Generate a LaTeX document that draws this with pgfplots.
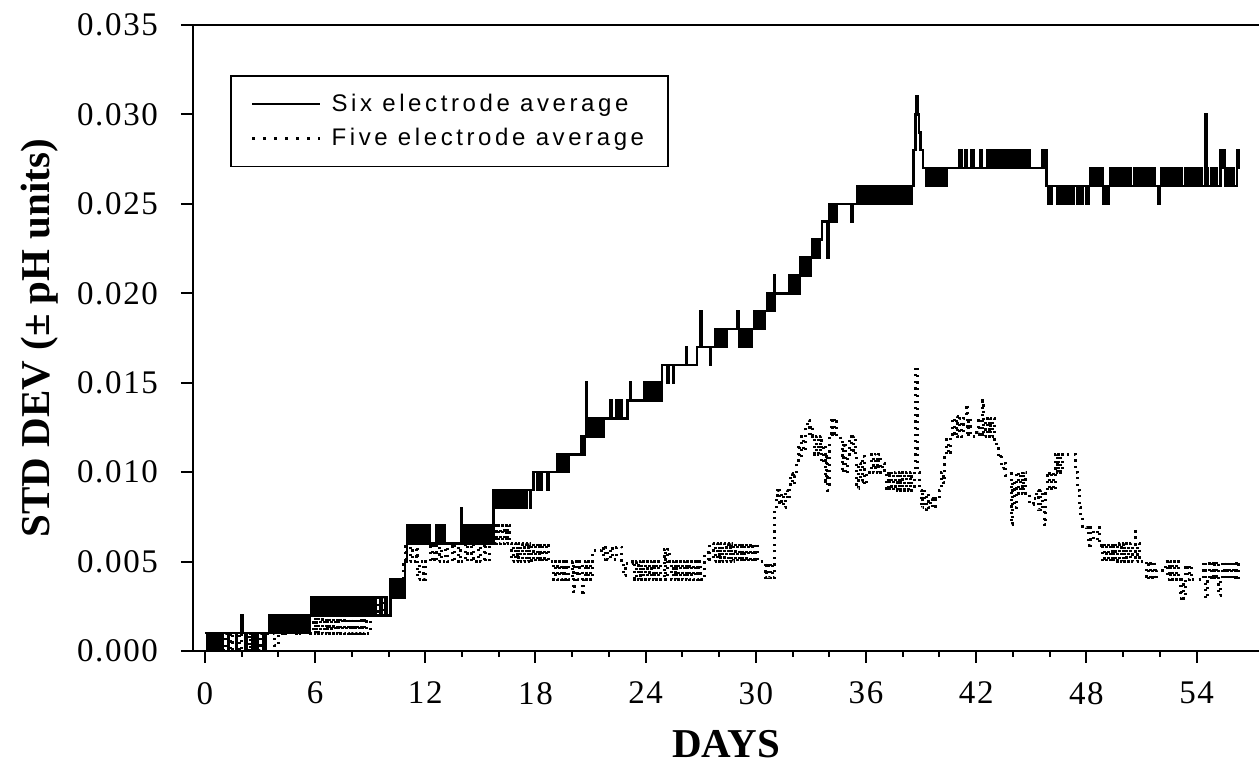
\documentclass[border=0pt]{standalone}
\usepackage{pgfplots}
\pgfplotsset{compat=1.18}
\usepackage{fontspec}
\setmainfont{Liberation Serif}
\newfontfamily\legendfont[LetterSpace=15]{Liberation Sans}
\newfontfamily\tickfont[LetterSpace=5]{Liberation Serif}

\begin{document}
\begin{tikzpicture}
\begin{axis}[
  scale only axis,
  width=533pt, height=313pt,
  xmin=-0.65, xmax=57.4,
  ymin=0, ymax=35,
  axis y line=left,
  y axis line style={-},
  axis line style={line width=1.1pt},
  xtick={0,6,...,54},
  minor x tick num=2,
  ytick={0,5,...,35},
  yticklabels={0.000,0.005,0.010,0.015,0.020,0.025,0.030,0.035},
  tick align=outside,
  xtick pos=left,
  major tick length=6pt,
  minor tick length=3pt,
  every tick/.style={black, line width=1pt},
  /pgf/number format/assume math mode=true,
  ticklabel style={font=\tickfont\fontsize{16.5}{19}\selectfont},
  yticklabel style={xshift=-8pt},
  xticklabel style={yshift=-6pt},
  label style={font=\bfseries\fontsize{20.5}{24}\selectfont},
  xlabel={DAYS},
  ylabel={STD DEV (\textpm{} pH units)},
  xlabel style={at={(axis description cs:0.5,-0.149)}, anchor=center},
  ylabel style={at={(axis description cs:-0.1435,0.5)}, anchor=center},
  legend style={at={(axis description cs:0.0347,0.92)}, anchor=north west,
    draw=black, line width=0.8pt, inner xsep=10pt, inner ysep=7pt,
    font=\legendfont\fontsize{12}{14}\selectfont, row sep=3pt,
    cells={anchor=west},
    /tikz/every odd column/.append style={column sep=3pt}},
  legend image code/.code={\draw[#1] (0pt,0pt) -- (34pt,0pt);},
]
\addlegendimage{black, line width=1.2pt}
\addlegendimage{black, line width=1.4pt, dash pattern=on 1.3pt off 4.2pt}
\legend{Six electrode average, Five electrode average}

% six electrode average (units of 0.001 pH)
\addplot[const plot, black, line width=1.3pt, forget plot] coordinates {
(0.0,1)(0.15,0)(0.2,1)(0.3,0)(0.35,1)(0.45,0)(0.5,1)(0.6,0)(0.65,1)(0.75,0)(0.8,1)(0.9,0)(0.95,1)(1.25,0)(1.3,1)(1.7,0)(1.75,1)(2.0,2)(2.05,1)(2.2,0)(2.3,1)(2.6,0)(2.65,1)(2.8,0)(2.9,1)(3.2,0)(3.3,1)
(3.5,2)(3.6,1)(3.7,2)(3.8,1)(3.9,2)(4.0,1)(4.1,2)(4.2,1)(4.3,2)(4.4,1)(4.5,2)(4.6,1)(4.7,2)(4.8,1)(4.9,2)(5.0,1)(5.1,2)(5.2,1)(5.3,2)(5.4,1)(5.5,2)(5.6,1)(5.7,2)
(5.8,3)(5.9,2)(6.0,3)(6.1,2)(6.2,3)(6.3,2)(6.4,3)(6.5,2)(6.6,3)(6.7,2)(6.8,3)(6.9,2)(7.0,3)(7.1,2)(7.2,3)(7.3,2)(7.4,3)(7.5,2)(7.6,3)(7.7,2)(7.8,3)(7.9,2)(8.0,3)(8.1,2)(8.2,3)(8.3,2)(8.4,3)(8.5,2)(8.6,3)(8.7,2)(8.8,3)(8.9,2)(9.0,3)(9.1,2)(9.2,3)(9.3,2)(9.55,3)(9.65,2)(9.8,3)(9.9,2)
(10.1,4)(10.2,3)(10.3,4)(10.4,3)(10.5,4)(10.6,3)(10.7,4)(10.8,3)
(10.9,5)(11.0,7)(11.1,6)(11.2,7)(11.3,6)(11.4,7)(11.5,6)(11.6,7)(11.7,6)(11.8,7)(11.9,6)(12.05,7)(12.1,6)(12.2,7)(12.25,6)(12.6,7)(12.65,6)(12.8,7)(12.85,6)(13.0,7)(13.05,6)(13.95,8)(14.0,6)
(14.1,7)(14.2,6)(14.3,7)(14.4,6)(14.5,7)(14.6,6)(14.7,7)(14.8,6)(14.9,7)(15.0,6)(15.1,7)(15.2,6)(15.3,7)(15.4,6)(15.5,7)(15.6,6)
(15.7,9)(15.8,8)(15.9,9)(16.0,8)(16.1,9)(16.2,8)(16.3,9)(16.4,8)(16.5,9)(16.6,8)(16.7,9)(16.8,8)(16.9,9)(17.0,8)(17.1,9)(17.2,8)(17.3,9)(17.45,8)(17.5,9)(17.7,8)(17.75,9)
(17.9,10)(18.1,9)(18.15,10)(18.3,9)(18.35,10)(18.65,9)(18.7,10)
(19.2,11)(19.3,10)(19.4,11)(19.5,10)(19.6,11)(19.7,10)(19.8,11)
(20.5,12)(20.6,11)(20.7,12)(20.75,15)(20.8,12)(20.9,13)(21.0,12)(21.1,13)(21.2,12)(21.3,13)(21.4,12)(21.5,13)(21.6,12)(21.7,13)
(22.1,14)(22.15,13)(22.4,14)(22.5,13)(22.6,14)(22.7,13)(23.0,14)(23.15,15)(23.2,14)
(23.9,15)(24.0,14)(24.1,15)(24.2,14)(24.3,15)(24.4,14)(24.5,15)(24.6,14)(24.7,15)(24.8,14)
(24.9,16)(25.2,15)(25.25,16)(25.5,15)(25.55,16)(26.2,17)(26.25,16)(26.8,17)(27.0,19)(27.05,17)(27.5,16)(27.55,17)
(27.8,18)(27.9,17)(28.0,18)(28.1,17)(28.2,18)(28.3,17)(28.4,18)(29.0,19)(29.05,18)(29.1,17)(29.2,18)(29.3,17)(29.4,18)(29.5,17)(29.6,18)(29.7,17)(29.75,18)
(29.9,19)(30.0,18)(30.1,19)(30.2,18)(30.3,19)(30.4,18)(30.5,19)
(30.6,20)(30.7,19)(30.8,20)(30.9,19)(31.0,21)(31.05,20)
(31.8,21)(31.9,20)(32.0,21)(32.1,20)(32.2,21)(32.3,20)
(32.4,22)(32.5,21)(32.6,22)(32.7,21)(32.8,22)(32.9,21)(33.0,22)
(33.1,23)(33.2,22)(33.3,23)(33.4,22)(33.5,23)
(33.6,24)(33.9,22)(33.95,24)
(34.0,25)(34.1,24)(34.2,25)(34.3,24)(34.4,25)(35.2,24)(35.25,25)
(35.5,26)(35.6,25)(35.7,26)(35.8,25)(35.9,26)(36.0,25)(36.1,26)(36.2,25)(36.3,26)(36.4,25)(36.5,26)(36.6,25)(36.7,26)(36.8,25)(36.9,26)(37.0,25)(37.1,26)(37.2,25)(37.3,26)(37.4,25)(37.5,26)(37.6,25)(37.7,26)(37.8,25)(37.9,26)(38.0,25)(38.1,26)(38.2,25)(38.3,26)(38.4,25)
(38.5,26)(38.6,28)(38.7,30)(38.76,31)(38.82,30)(38.88,29)(38.95,28)(39.1,27)
(39.3,26)(39.4,27)(39.5,26)(39.6,27)(39.7,26)(39.8,27)(39.9,26)(40.0,27)(40.1,26)(40.2,27)(40.3,26)(40.4,27)
(41.1,28)(41.2,27)(41.4,28)(41.5,27)(41.75,28)(41.85,27)(42.2,28)(42.3,27)
(42.6,28)(42.7,27)(42.8,28)(42.9,27)(43.0,28)(43.1,27)(43.2,28)(43.3,27)(43.4,28)(43.5,27)(43.6,28)(43.7,27)(43.8,28)(43.9,27)(44.0,28)(44.1,27)(44.2,28)(44.3,27)(44.4,28)(44.5,27)(44.6,28)(44.7,27)(44.8,28)(44.9,27)
(45.6,28)(45.7,27)(45.75,28)(45.84,26)
(45.9,25)(46.0,26)(46.05,25)(46.1,26)(46.4,25)(46.5,26)(46.6,25)(46.7,26)(46.8,25)(46.9,26)(47.0,25)(47.1,26)(47.2,25)(47.3,26)(47.5,25)(47.6,26)(47.7,25)(47.8,26)(48.0,25)(48.1,26)
(48.2,27)(48.3,26)(48.4,27)(48.5,26)(48.6,27)(48.7,26)(48.8,27)(48.9,25)(49.0,26)(49.1,25)(49.2,26)(49.3,27)(49.4,26)(49.5,27)(49.6,26)(49.7,27)(49.8,26)(49.9,27)(50.0,26)(50.1,27)(50.2,26)(50.3,27)(50.4,26)(50.6,27)(50.7,26)(50.8,27)(50.9,26)(51.0,27)(51.1,26)(51.2,27)(51.3,26)(51.4,27)(51.5,26)(51.6,27)(51.7,26)(51.9,25)(52.0,26)
(52.1,27)(52.2,26)(52.3,27)(52.4,26)(52.5,27)(52.6,26)(52.7,27)(52.8,26)(52.9,27)(53.0,26)(53.1,27)(53.2,26)(53.4,27)(53.5,26)(53.6,27)(53.7,26)(53.8,27)(53.9,26)(54.0,27)(54.1,26)(54.2,27)(54.3,26)(54.5,30)(54.55,27)(54.6,26)
(54.8,27)(54.9,26)(55.0,27)(55.1,26)(55.3,28)(55.4,27)(55.5,28)(55.55,26)(55.7,27)(55.8,26)(55.9,27)(56.0,26)(56.2,28)(56.3,27)(56.35,27)
};

% five electrode average (units of 0.001 pH)
\addplot[const plot, black, line width=1.5pt, dash pattern=on 1.1pt off 2.2pt, forget plot] coordinates {
(0.3,1)(0.5,0)(0.7,1)(0.9,0)(1.1,1)(1.4,0)(1.5,1)(1.9,0)(2.0,1)(2.4,0)(2.5,1)(2.9,0)(3.0,1)(3.5,1)(3.8,0.3)(4.0,1)(4.2,2)(4.4,1)(4.6,2)(4.8,1)(5.0,2)(5.2,1)(5.4,2)(5.6,1)
(5.9,2)(6.0,1)(6.1,2)(6.2,1)(6.3,2)(6.4,1)(6.5,2)(6.6,1)(6.7,2)(6.8,1)(6.9,2)(7.0,1)(7.1,2)(7.2,1)(7.3,2)(7.4,1)(7.5,2)(7.6,1)(7.7,2)(7.8,1)(7.9,2)(8.0,1)(8.1,2)(8.2,1)(8.3,2)(8.4,1)(8.5,2)(8.6,1)(8.7,2)(8.8,1)
(9.0,2)(9.3,3)(9.4,2)(9.6,3)(9.7,2)(9.9,3)
(10.0,3)(10.2,4)(10.4,3)(10.6,4)
(10.8,5)(10.9,6)(11.0,5)(11.2,6)(11.3,5)(11.5,6)(11.6,4)(11.7,5)(11.9,4)(12.0,5)
(12.3,6)(12.4,5)(12.5,6)(12.6,5)(12.8,6)(12.9,5)(13.1,6)(13.2,5)(13.5,6)(13.6,5)(13.8,6)(13.9,5)(14.2,6)(14.3,5)(14.5,6)(14.6,5)(14.9,6)(15.0,5)(15.2,6)(15.3,5)(15.5,6)
(15.7,7)(15.8,6)(15.9,7)(16.0,6)(16.1,7)(16.2,6)(16.3,7)(16.4,6)(16.5,7)
(16.6,6)(16.7,5)(16.8,6)(16.9,5)(17.0,6)(17.1,5)(17.2,6)(17.3,5)(17.4,6)(17.5,5)(17.6,6)(17.7,5)(17.8,6)(17.9,5)(18.0,6)(18.1,5)(18.2,6)(18.3,5)(18.4,6)(18.5,5)(18.6,6)(18.7,5)
(18.9,5)(19.0,4)(19.1,5)(19.2,4)(19.3,5)(19.4,4)(19.5,5)(19.6,4)(19.7,5)(19.8,4)
(20.0,5)(20.07,3.3)(20.15,5)(20.3,4)(20.4,5)(20.55,3.1)(20.6,4)(20.7,5)(20.8,4)(20.9,5)(21.0,4)(21.1,5.6)
(21.6,5.8)(21.7,5.1)(21.8,5.8)(21.9,5.1)(22.1,5.8)(22.2,5.1)(22.4,5.8)
(22.7,4.9)(22.8,4.2)(22.9,4.9)
(23.3,5)(23.4,4)(23.5,5)(23.6,4)(23.7,5)(23.8,4)(23.9,5)(24.0,4)(24.1,5)(24.2,4)(24.3,5)(24.4,4)(24.5,5)(24.6,4)(24.7,5)(24.8,4)
(25.0,5.7)(25.1,4)(25.2,5.7)
(25.3,5)(25.4,4)(25.5,5)(25.6,4)(25.7,5)(25.8,4)(25.9,5)(26.0,4)(26.1,5)(26.2,4)(26.3,5)(26.4,4)(26.5,5)(26.6,4)(26.7,5)(26.8,4)(26.9,5)(27.0,4)
(27.2,5.5)(27.4,5)(27.5,6)
(27.6,6)(27.7,5)(27.8,6)(27.9,5)(28.0,6)(28.1,5)(28.2,6)(28.3,5)(28.4,6)(28.5,5)(28.6,6)(28.7,5)(28.8,6)(28.9,5)(29.0,6)(29.1,5)(29.2,6)(29.3,5)(29.4,6)(29.5,5)(29.6,6)(29.7,5)(29.8,6)(29.9,5)(30.0,6)(30.1,5)
(30.5,4.1)(30.6,4.9)(30.7,4.1)(30.8,4.9)(30.9,4.1)
(31.0,7.9)(31.1,8.5)(31.2,9.0)(31.3,8.2)(31.4,8.8)(31.5,8.0)(31.6,9.0)(31.7,8.5)(31.85,9.2)(31.9,9.9)(32.0,9.3)(32.1,9.8)
(32.2,10.5)(32.3,11.5)(32.4,10.8)(32.5,12.0)(32.6,11.2)(32.7,12.6)(32.8,12.9)(32.9,12.0)(33.0,12.6)
(33.1,12)(33.2,11)(33.3,12)(33.4,11)(33.5,12)(33.6,10.5)(33.7,11.5)(33.8,9.5)(33.85,11)(33.9,9.0)
(34.0,12)(34.1,13)(34.2,12)(34.3,13)(34.4,12)
(34.6,11.8)(34.7,10)(34.8,11.5)(34.9,9.9)(35.0,11)(35.1,12)(35.2,11.1)(35.3,12)
(35.4,10.9)(35.5,9.1)(35.6,10.5)(35.7,9.5)(35.8,10.9)(35.9,9.3)(36.0,10)
(36.3,11)(36.4,10)(36.5,11)(36.6,10)(36.7,11)(36.8,10)(36.9,10.5)
(37.0,10)(37.1,9)(37.2,10)(37.3,9)(37.4,10)(37.5,9)(37.6,10)(37.7,9)(37.8,10)(37.9,9)(38.0,10)(38.1,9)(38.2,10)(38.3,9)(38.4,10)(38.5,9)
(38.65,10)(38.7,15.9)(38.8,10)(38.9,9)
(39.0,8.0)(39.1,9.0)(39.2,7.9)(39.3,8.8)(39.4,8.0)(39.5,8.5)(39.6,8)
(39.8,8.5)(40.0,9)(40.1,10)(40.2,9.4)(40.3,10.8)(40.4,11.8)(40.5,11)
(40.6,12)(40.7,13)(40.8,12)(40.9,13.1)(41.0,12)(41.1,13)(41.2,12)(41.3,13)(41.45,13.8)(41.5,12)(41.6,13)(41.7,12)
(42.0,12.2)
(42.1,13)(42.2,12)(42.35,14)(42.4,12)(42.5,13)(42.6,12)(42.7,13)(42.8,12)(42.9,13)(43.0,11.8)
(43.1,11.5)(43.2,10.8)(43.3,11)(43.4,10.2)(43.5,10.5)(43.6,9.8)
(43.8,9.9)(43.9,7.1)(44.0,9.5)(44.1,8)(44.2,10)(44.3,8.8)(44.4,10)(44.5,8.8)(44.6,10)(44.7,8.8)
(44.9,8.2)(45.1,8.5)
(45.3,9)(45.4,7.9)(45.5,9)(45.6,7.9)(45.7,7.05)(45.8,9)(45.9,10)(46.0,9)(46.1,10)(46.2,9)
(46.3,11)(46.4,10)(46.5,11)(46.6,10)(46.7,11)
(47.3,11)(47.4,10)(47.5,9)(47.6,8)(47.7,7.5)(47.8,6.95)
(48.0,6.9)(48.1,5.9)(48.2,6.9)(48.4,6.2)(48.6,6.9)(48.7,5.9)
(48.8,6)(48.9,5)(49.0,6)(49.1,5)(49.2,6)(49.3,5)(49.4,6)(49.5,5)(49.6,6)(49.7,5)(49.8,6)(49.9,5)(50.0,6)(50.1,5)(50.2,6)(50.3,5)(50.4,6)(50.5,5)(50.65,6.85)(50.7,5)(50.8,6)(50.9,5)
(51.2,5)(51.3,4)(51.4,5)(51.5,4)(51.6,5)(51.7,4)(51.8,4.5)
(52.3,5)(52.4,4)(52.5,5)(52.6,4)(52.7,5)(52.8,4)(52.9,5)(53.0,4)(53.1,2.95)(53.2,4)(53.3,2.95)(53.4,4.8)(53.5,4)(53.6,4.8)
(53.7,4)
(54.4,5)(54.5,2.95)(54.6,4)(54.7,5)(54.8,4)(54.9,5)(55.0,4)(55.1,5)(55.2,3.1)(55.3,4)(55.4,5)(55.5,4)(55.6,5)(55.7,4)(55.8,5)(55.9,4)(56.0,5)(56.1,4)(56.2,5)(56.3,4)(56.4,4)
};

\coordinate (sw) at (rel axis cs:0,0);
\coordinate (ne) at (rel axis cs:1,1);
\end{axis}
\pgfresetboundingbox
\path[use as bounding box] ([xshift=-96.5pt,yshift=-56.5pt]sw) rectangle ([yshift=12.5pt]ne);
\end{tikzpicture}
\end{document}
